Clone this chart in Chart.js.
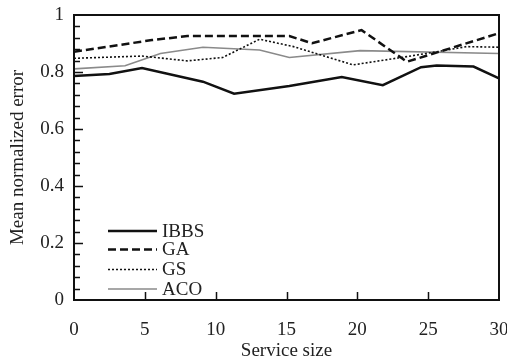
<!DOCTYPE html>
<html><head><meta charset="utf-8">
<script src="https://cdn.jsdelivr.net/npm/chart.js@4/dist/chart.umd.min.js"></script>
<style>html,body{margin:0;padding:0;background:#fff}#wrap{width:507px;height:362px}</style>
</head><body><div id="wrap"><canvas id="c" width="507" height="362"></canvas></div>
<script>
const seriesNames = ["IBBS", "GA", "GS", "ACO"];
const xIBBS = [0, 2.5, 4.8, 9.1, 11.3, 15.2, 18.9, 21.8, 24.5, 25.6, 28.2, 30];
const yIBBS = [0.786, 0.793, 0.814, 0.766, 0.724, 0.751, 0.782, 0.754, 0.817, 0.823, 0.819, 0.778];
const xGA = [0, 5.5, 8, 15.2, 16.8, 20.3, 23.5, 30];
const yGA = [0.871, 0.912, 0.926, 0.926, 0.901, 0.947, 0.836, 0.936];
const xGS = [0, 4.8, 8, 10.5, 13.1, 15.5, 19.7, 23.5, 25.6, 27.7, 30];
const yGS = [0.848, 0.856, 0.839, 0.851, 0.915, 0.889, 0.825, 0.854, 0.871, 0.889, 0.887];
const xACO = [0, 3.6, 6.1, 9.1, 13.1, 15.2, 20.2, 30];
const yACO = [0.811, 0.822, 0.865, 0.887, 0.877, 0.851, 0.875, 0.865];
const xTicks = [0, 5, 10, 15, 20, 25, 30];
const yTicks = ["0", "0.2", "0.4", "0.6", "0.8", "1"];

const FONT = "'Liberation Serif', 'Times New Roman', serif";
const FS = 19;
const pts = (xs, ys) => xs.map((x, i) => ({x, y: ys[i]}));
const styles = [
  {borderColor: '#111', borderWidth: 2.5, borderDash: []},
  {borderColor: '#111', borderWidth: 2.5, borderDash: [8, 4]},
  {borderColor: '#111', borderWidth: 1.6, borderDash: [2, 2]},
  {borderColor: '#8a8a8a', borderWidth: 1.6, borderDash: []}
];
const dataSets = [pts(xIBBS, yIBBS), pts(xGA, yGA), pts(xGS, yGS), pts(xACO, yACO)];

const framePlugin = {
  id: 'frame',
  afterDraw(chart) {
    const ctx = chart.ctx, a = chart.chartArea;
    const xs = chart.scales.x, ys = chart.scales.y;
    ctx.save();
    ctx.strokeStyle = '#111';
    ctx.lineWidth = 2;
    ctx.setLineDash([]);
    ctx.strokeRect(a.left, a.top, a.right - a.left, a.bottom - a.top);
    ctx.lineWidth = 1.5;
    ctx.beginPath();
    for (let v = 5; v < 30; v += 5) {
      const px = Math.round(xs.getPixelForValue(v)) + 0.5;
      ctx.moveTo(px, a.bottom); ctx.lineTo(px, a.bottom - 8);
    }
    for (let i = 1; i < 25; i++) {
      const v = i * 0.04;
      const py = Math.round(ys.getPixelForValue(v)) + 0.5;
      const major = (i % 5 === 0);
      ctx.moveTo(a.left, py); ctx.lineTo(a.left + (major ? 9 : 6), py);
    }
    ctx.stroke();
    // legend
    const lx0 = 108, lx1 = 157, ly = [231, 249.5, 269.5, 289];
    ctx.font = FS + 'px ' + FONT;
    ctx.textBaseline = 'middle';
    ctx.fillStyle = '#222';
    seriesNames.forEach((n, i) => {
      const s = styles[i];
      ctx.strokeStyle = s.borderColor;
      ctx.lineWidth = s.borderWidth;
      ctx.setLineDash(s.borderDash);
      ctx.beginPath();
      ctx.moveTo(lx0, ly[i]); ctx.lineTo(lx1, ly[i]);
      ctx.stroke();
      ctx.fillText(n, lx1 + 5, ly[i] + 1);
    });
    ctx.restore();
  }
};

new Chart(document.getElementById('c'), {
  type: 'line',
  data: {
    datasets: seriesNames.map((n, i) => Object.assign({
      label: n, data: dataSets[i], pointRadius: 0, tension: 0, fill: false
    }, styles[i]))
  },
  options: {
    responsive: false,
    animation: false,
    layout: {padding: {top: 15, right: 8, left: 0, bottom: 0}},
    plugins: {legend: {display: false}, tooltip: {enabled: false}},
    scales: {
      x: {
        type: 'linear', min: 0, max: 30,
        afterBuildTicks(s) { s.ticks = xTicks.map(v => ({value: v})); },
        afterFit(s) { s.height = 62; s.paddingLeft = 0; s.paddingRight = 0; },
        grid: {display: false, drawTicks: false},
        border: {display: false},
        ticks: {color: '#222', font: {family: FONT, size: FS}, padding: 19, maxRotation: 0,
          callback: v => String(v)},
        title: {display: true, text: 'Service size', color: '#222', font: {family: FONT, size: FS}, padding: {top: 4, bottom: 0}}
      },
      y: {
        type: 'linear', min: 0, max: 1,
        afterBuildTicks(s) { s.ticks = yTicks.map(t => ({value: parseFloat(t)})); },
        afterFit(s) { s.width = 74; s.paddingTop = 0; s.paddingBottom = 0; },
        grid: {display: false, drawTicks: false},
        border: {display: false},
        ticks: {color: '#222', font: {family: FONT, size: FS}, padding: 10,
          callback: (v) => yTicks[Math.round(v * 5)]},
        title: {display: true, text: 'Mean normalized error', color: '#222', font: {family: FONT, size: FS}, padding: {top: 7, bottom: 2}}
      }
    }
  },
  plugins: [framePlugin]
});
</script></body></html>
